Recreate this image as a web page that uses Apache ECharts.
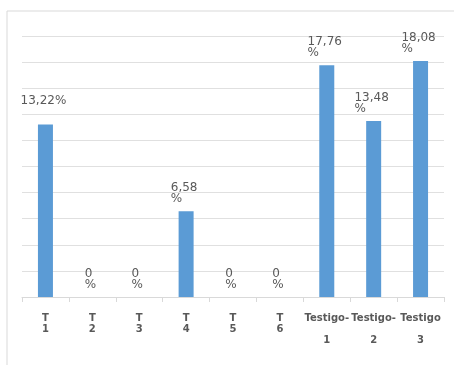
<!DOCTYPE html>
<html>
<head>
<meta charset="utf-8">
<script src="https://cdn.jsdelivr.net/npm/echarts@6/dist/echarts.min.js"></script>
<style>html,body{margin:0;padding:0;background:#fff}#c{width:454px;height:365px}</style>
</head>
<body>
<div id="c"></div>
<script>
var categories = ['T\n1', 'T\n2', 'T\n3', 'T\n4', 'T\n5', 'T\n6', 'Testigo-\n\n1', 'Testigo-\n\n2', 'Testigo\n\n3'];
var values = [13.22, 0, 0, 6.58, 0, 0, 17.76, 13.48, 18.08];
var labelTexts = ['13,22%', '0\n%', '0\n%', '6,58\n%', '0\n%', '0\n%', '17,76\n%', '13,48\n%', '18,08\n%'];

var chart = echarts.init(document.getElementById('c'));
chart.setOption({
  animation: false,
  graphic: [{
    type: 'rect', shape: {x: 7, y: 11, width: 460, height: 370},
    style: {fill: 'none', stroke: '#d9d9d9', lineWidth: 1}, silent: true
  }],
  grid: {left: 22, right: 10, top: 36, bottom: 68},
  xAxis: {
    type: 'category',
    data: categories,
    axisLine: {lineStyle: {color: '#d9d9d9'}},
    axisTick: {show: true, length: 5, lineStyle: {color: '#d9d9d9'}},
    axisLabel: {
      interval: 0, margin: 16, color: '#595959',
      fontFamily: 'DejaVu Sans', fontWeight: 'bold', fontSize: 10, lineHeight: 11
    }
  },
  yAxis: {
    type: 'value', min: 0, max: 20, interval: 2,
    axisLabel: {show: false},
    axisLine: {show: false},
    axisTick: {show: false},
    splitLine: {lineStyle: {color: '#e0e0e0'}}
  },
  series: [{
    type: 'bar',
    data: values,
    barWidth: 15,
    itemStyle: {color: '#5b9bd5'},
    label: {
      show: true,
      position: 'top',
      distance: 7,
      offset: [-2, 0],
      formatter: function (p) {
        var lines = labelTexts[p.dataIndex].split('\n');
        var out = lines.map(function (l) { return '{a|' + l + '}'; });
        if (out.length === 1) out.push('{a| }');
        return out.join('\n');
      },
      rich: {
        a: {align: 'left', color: '#595959', fontFamily: 'DejaVu Sans', fontSize: 12, lineHeight: 11}
      }
    }
  }]
});
</script>
</body>
</html>
